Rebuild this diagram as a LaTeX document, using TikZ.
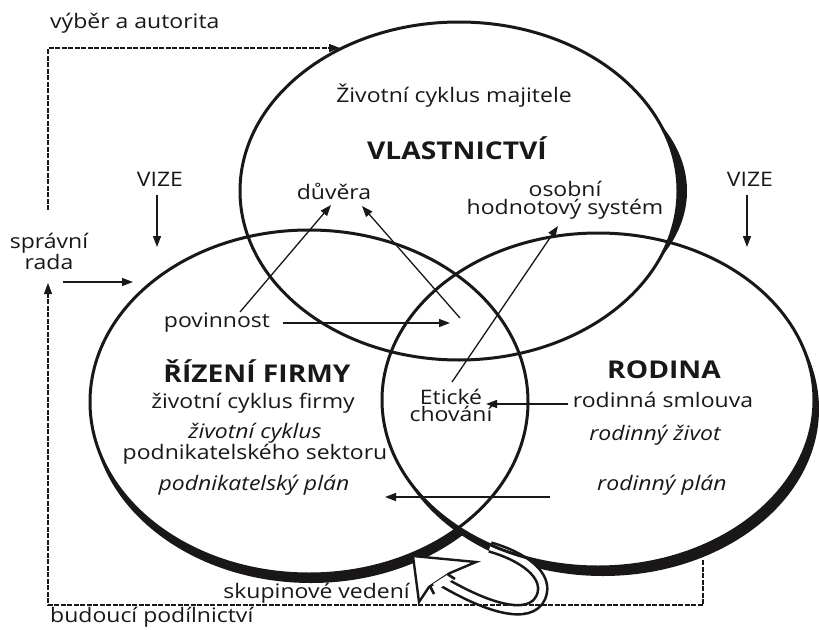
\documentclass[tikz,border=0pt]{standalone}
\usepackage{fontspec}
\setmainfont[FakeStretch=1.15]{Open Sans}
\usetikzlibrary{arrows.meta}
\definecolor{ink}{HTML}{1A1718}
\tikzset{
  ring/.style={draw=ink, line width=3pt},
  lbl/.style={font=\fontsize{20}{17}\selectfont, text=ink, align=center, inner sep=0pt},
  itlbl/.style={lbl, font=\fontsize{20}{17}\selectfont\itshape},
  head/.style={lbl, font=\fontsize{24.5}{27}\selectfont\bfseries},
  arr/.style={draw=ink, line width=1.3pt, -{Triangle[length=11pt,width=8pt]}},
  dashline/.style={draw=ink, line width=1.2pt, dash pattern=on 5pt off 1.5pt},
}
\begin{document}
\begin{tikzpicture}[x=1pt,y=-1pt]
\useasboundingbox (0,0) rectangle (819,629);
\fill[white] (0,0) rectangle (819,629);

\coordinate (cT) at (459,191);
\coordinate (cL) at (309,402);
\coordinate (cR) at (598,400);
\coordinate (sT) at (468,191);
\coordinate (sL) at (311,411);
\coordinate (sR) at (603,409);

% heavy crescents (shadow of each ring)
\fill[ink] (sL) ellipse [x radius=219, y radius=172];
\fill[white] (cL) ellipse [x radius=219, y radius=172];
\fill[ink] (sR) ellipse [x radius=216, y radius=167];
\fill[white] (cR) ellipse [x radius=216, y radius=167];
\fill[ink] (sT) ellipse [x radius=219, y radius=140];
\fill[white] (cT) ellipse [x radius=219, y radius=169];

% hollow loop arrow shaft
\coordinate (loopS) at (490,547);
\coordinate (loopE) at (440,580);
\draw[draw=ink, line width=2.6pt, double=white, double distance=6.5pt]
  (loopE) .. controls (485,607) and (530,622) .. (541,597) .. controls (550,575) and (522,556) .. (loopS);

% rings
\draw[ring] (cT) ellipse [x radius=219, y radius=169];
\draw[ring] (cL) ellipse [x radius=219, y radius=172];
\draw[ring] (cR) ellipse [x radius=216, y radius=167];

% arrowhead of the loop
\coordinate (tipL) at (413,556);
\filldraw[fill=white, draw=ink, line width=2.4pt, line join=miter]
  (tipL) -- (476,562) -- (450,573) -- (429,587) -- (419,602) -- cycle;
\fill[white] (447,575) -- (433,584) -- (437,590) -- (452,580) -- cycle;
\draw[ink, line width=2.6pt] (448,574.5) -- (455,579);
\draw[ink, line width=2.6pt] (430,586) -- (434,594);

% dashed feedback lines
\coordinate (dTop1) at (48,210);
\coordinate (dTop2) at (48,48);
\coordinate (dTopE) at (340,48);
\draw[dashline, -{Triangle[length=11pt,width=8pt]}] (dTop1) -- (dTop2) -- (dTopE);
\coordinate (dB1) at (703,560);
\coordinate (dB2) at (703,605);
\coordinate (dB3) at (48,605);
\coordinate (dBE) at (48,283);
\draw[dashline, -{Triangle[length=11pt,width=8pt]}] (dB1) -- (dB2) -- (dB3) -- (dBE);

% texts
\node[lbl, anchor=west] (vyber) at (50,23) {výběr a autorita};
\node[lbl] (sprava) at (49,251) {správní\\rada};
\node[lbl] (vizeL) at (160,179) {VIZE};
\node[lbl] (vizeR) at (750,179) {VIZE};
\node[lbl] (zivM) at (454,96) {Životní cyklus majitele};
\node[head] (vlast) at (457,148) {VLASTNICTVÍ};
\node[lbl] (duvera) at (334,191) {důvěra};
\node[lbl] (osobni) at (565,200) {osobní\\[1pt]hodnotový systém};
\node[lbl] (povin) at (217,323) {povinnost};
\node[head] (rizeni) at (257,371) {ŘÍZENÍ FIRMY};
\node[lbl] (zcf) at (253,403) {životní cyklus firmy};
\node[lbl] (zcs) at (255,444) {\textit{životní cyklus}\\podnikatelského sektoru};
\node[itlbl] (pplan) at (254,485) {podnikatelský plán};
\node[lbl] (etic) at (451,405) {Etické\\chování};
\node[head] (rodina) at (664,370) {RODINA};
\node[lbl] (smlouva) at (663,400) {rodinná smlouva};
\node[itlbl] (rzivot) at (655,435) {rodinný život};
\node[itlbl] (rplan) at (662,485) {rodinný plán};
\node[lbl, anchor=east] (skup) at (410,593) {skupinové vedení};
\node[lbl, anchor=west] (budouci) at (50,617) {budoucí podílnictví};

% arrows
\coordinate (vL1) at (157,195); \coordinate (vL2) at (157,247);
\draw[arr] (vL1) -- (vL2);
\coordinate (vR1) at (747,195); \coordinate (vR2) at (747,247);
\draw[arr] (vR1) -- (vR2);
\coordinate (sr1) at (63,282); \coordinate (sr2) at (133,282);
\draw[arr] (sr1) -- (sr2);
\coordinate (a1s) at (240,312); \coordinate (a1e) at (331,205);
\draw[arr] (a1s) -- (a1e);
\coordinate (a2s) at (460,318); \coordinate (a2e) at (362,206);
\draw[arr] (a2s) -- (a2e);
\coordinate (pv1) at (283,323); \coordinate (pv2) at (450,323);
\draw[arr] (pv1) -- (pv2);
\coordinate (et1) at (452,382); \coordinate (et2) at (558,226);
\draw[arr] (et1) -- (et2);
\coordinate (sm1) at (568,404); \coordinate (sm2) at (486,404);
\draw[arr] (sm1) -- (sm2);
\coordinate (pl1) at (550,497); \coordinate (pl2) at (385,497);
\draw[arr] (pl1) -- (pl2);
\end{tikzpicture}
\end{document}
